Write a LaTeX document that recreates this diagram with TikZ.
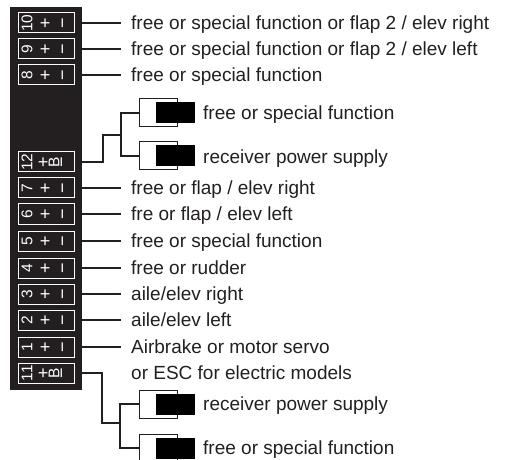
\documentclass[tikz,border=0pt]{standalone}
\usepackage{fontspec}
\setmainfont{Liberation Sans}
\usetikzlibrary{shapes.misc}
\definecolor{ink}{HTML}{231F20}
\begin{document}
\begin{tikzpicture}[x=1pt,y=-1pt,
 wire/.style={draw=ink,line width=1.3pt},
 lbl/.style={anchor=west,inner xsep=0pt,inner ysep=0pt,text height=13pt,text depth=0pt,font=\fontsize{19}{23}\selectfont,text=ink},
 sock/.style={shape=chamfered rectangle,chamfered rectangle corners={south west,south east},chamfered rectangle xsep=3.5pt,chamfered rectangle ysep=3.5pt,draw=white,line width=1pt,minimum width=56pt,minimum height=20pt,inner sep=0pt},
 stxt/.style={text=white,rotate=90,font=\fontsize{15.5}{15.5}\selectfont,inner sep=0pt},
 sgn/.style={text=white,rotate=90,font=\fontsize{18}{18}\selectfont,inner sep=0pt},
 plug/.style={draw=ink,fill=white,line width=1pt,minimum width=38pt,minimum height=28pt,inner sep=0pt},
 block/.style={fill=black,minimum width=39pt,minimum height=21pt,inner sep=0pt},
 panelbox/.style={fill=ink,minimum width=72pt,minimum height=383pt,inner sep=0pt}]
\useasboundingbox (0,0) rectangle (507,460);
\node[panelbox] (panel) at (46,198.5) {};
\foreach \n/\y in {10/23,9/49,8/75,7/188,6/214,5/241,4/268,3/294,2/320,1/347}{
  \node[sock] (s\n) at (46,\y) {};
  \node[stxt] (d\n) at (27,\y) {\n};
  \node[sgn] (p\n) at (46,\y) {+};
  \node[sgn] (m\n) at (65,\y) {−};
}
\foreach \n/\y in {12/162,11/373}{
  \node[sock] (s\n) at (46,\y) {};
  \node[stxt] (d\n) at (27,\y) {\n};
  \node[sgn] (p\n) at (44,\y) {+};
  \node[stxt] (q\n) at (54,\y) {B};
  \node[sgn] (m\n) at (64,\y) {−};
}
\node[lbl] (l10) at (131,23) {free or special function or flap 2 / elev right};
\node[lbl] (l9) at (131,49) {free or special function or flap 2 / elev left};
\node[lbl] (l8) at (131,75) {free or special function};
\node[lbl] (l7) at (131,188) {free or flap / elev right};
\node[lbl] (l6) at (131,214) {fre or flap / elev left};
\node[lbl] (l5) at (131,241) {free or special function};
\node[lbl] (l4) at (131,268) {free or rudder};
\node[lbl] (l3) at (131,294) {aile/elev right};
\node[lbl] (l2) at (131,320) {aile/elev left};
\node[lbl] (l1) at (131,347) {Airbrake or motor servo};
\node[lbl] (l1b) at (131,373) {or ESC for electric models};
\foreach \n in {10,9,8,7,6,5,4,3,2,1}{
  \draw[wire] (s\n.east) -- ([xshift=-10pt]l\n.west);
}
% receiver 12 branch
\coordinate (j12) at (103,135);
\coordinate (t12) at (121,135);
\draw[wire] (s12.east) -| (j12) -- (t12);
\node[plug] (b12a) at (158,113) {};
\node[block] (k12a) at (175.5,112.5) {};
\node[plug] (b12b) at (158,156) {};
\node[block] (k12b) at (175.5,155.5) {};
\draw[wire] (b12a.west) -| (t12) |- (b12b.west);
\node[lbl] (l12a) at (203,113) {free or special function};
\node[lbl] (l12b) at (203,157) {receiver power supply};
% receiver 11 branch
\coordinate (j11) at (102,423);
\coordinate (t11) at (120,423);
\draw[wire] (s11.east) -| (j11) -- (t11);
\node[plug] (b11a) at (158,404) {};
\node[block] (k11a) at (175.5,404) {};
\node[plug] (b11b) at (158,448) {};
\node[block] (k11b) at (175.5,448) {};
\draw[wire] (b11a.west) -| (t11) |- (b11b.west);
\node[lbl] (l11a) at (203,404) {receiver power supply};
\node[lbl] (l11b) at (203,448) {free or special function};
\end{tikzpicture}
\end{document}
